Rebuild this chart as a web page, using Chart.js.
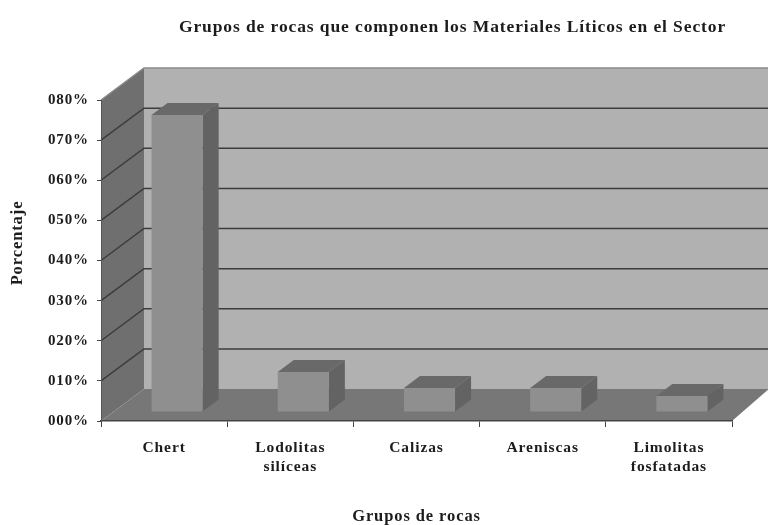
<!DOCTYPE html>
<html>
<head>
<meta charset="utf-8">
<title>Grupos de rocas</title>
<script src="https://cdn.jsdelivr.net/npm/chart.js@4"></script>
<style>
  html, body { margin: 0; background: #fff; }
  #wrap { width: 768px; height: 525px; }
  canvas { filter: blur(0.45px); }
</style>
</head>
<body>
<div id="wrap"><canvas id="rocasChart"></canvas></div>
<script>
const categorias = ['Chert', ['Lodolitas', 'silíceas'], 'Calizas', 'Areniscas', ['Limolitas', 'fosfatadas']];
const porcentajes = [74, 10, 6, 6, 4];
const yTickLabels = ['000%', '010%', '020%', '030%', '040%', '050%', '060%', '070%', '080%'];
const yTitulo = 'Porcentaje';

const serif = '"Liberation Serif", serif';
const ink = '#1c1c1c';
const espaciado = '0.9px';

// profundidad de las paredes y de las barras
const wallDx = 43, wallDy = 32, floorRightDx = 37;
const barDx = 16, barDy = 12;
const barShiftX = 13, barShiftY = 9;

function poly(ctx, pts, fill) {
  ctx.beginPath();
  pts.forEach((p, i) => i ? ctx.lineTo(p[0], p[1]) : ctx.moveTo(p[0], p[1]));
  ctx.closePath();
  ctx.fillStyle = fill;
  ctx.fill();
}

const falso3d = {
  id: 'falso3d',
  beforeLayout(chart) {
    chart.ctx.letterSpacing = espaciado;
  },
  afterLayout(chart) {
    // el título está a la derecha del centro del área
    chart.titleBlock.left += 36;
    chart.titleBlock.right += 36;
  },
  beforeDraw(chart) {
    const { ctx, chartArea: a, scales: { y } } = chart;
    ctx.letterSpacing = espaciado;
    const x0 = a.left, x1 = a.right, top = y.getPixelForValue(80), bot = y.getPixelForValue(0);
    ctx.save();
    poly(ctx, [[x0 + wallDx, top - wallDy], [x1 + wallDx, top - wallDy], [x1 + wallDx, bot - wallDy], [x0 + wallDx, bot - wallDy]], '#b1b1b1');
    poly(ctx, [[x0, top], [x0 + wallDx, top - wallDy], [x0 + wallDx, bot - wallDy], [x0, bot]], '#6f6f6f');
    poly(ctx, [[x0, bot], [x0 + wallDx, bot - wallDy], [x1 + floorRightDx, bot - wallDy], [x1, bot]], '#777777');
    ctx.strokeStyle = '#8a8a8a';
    ctx.lineWidth = 1.5;
    ctx.beginPath();
    ctx.moveTo(x0, top);
    ctx.lineTo(x0 + wallDx, top - wallDy);
    ctx.lineTo(x1 + wallDx, top - wallDy);
    ctx.stroke();
    ctx.strokeStyle = '#3c3c3c';
    ctx.beginPath();
    y.ticks.forEach(t => {
      if (t.value === 0 || t.value === 80) return;
      const py = y.getPixelForValue(t.value);
      ctx.moveTo(x0, py);
      ctx.lineTo(x0 + wallDx, py - wallDy);
      ctx.lineTo(x1 + wallDx, py - wallDy);
    });
    ctx.stroke();
    ctx.restore();
  },
  beforeDatasetsDraw(chart) {
    const { ctx } = chart;
    ctx.save();
    ctx.translate(barShiftX, -barShiftY);
    chart.getDatasetMeta(0).data.forEach(el => {
      const l = el.x - el.width / 2, r = el.x + el.width / 2;
      poly(ctx, [[l, el.y], [l + barDx, el.y - barDy], [r + barDx, el.y - barDy], [r, el.y]], '#696969');
      poly(ctx, [[r, el.y], [r + barDx, el.y - barDy], [r + barDx, el.base - barDy], [r, el.base]], '#636363');
    });
  },
  afterDatasetsDraw(chart) {
    chart.ctx.restore();
  },
  afterDraw(chart) {
    // título del eje y, no va centrado en el eje
    const { ctx } = chart;
    ctx.save();
    ctx.translate(18, 243);
    ctx.rotate(-Math.PI / 2);
    ctx.font = 'bold 16.5px ' + serif;
    ctx.fillStyle = ink;
    ctx.textAlign = 'center';
    ctx.textBaseline = 'middle';
    ctx.fillText(yTitulo, 0, 0);
    ctx.restore();
  }
};

new Chart(document.getElementById('rocasChart'), {
  type: 'bar',
  data: {
    labels: categorias,
    datasets: [{
      data: porcentajes,
      backgroundColor: '#8f8f8f',
      barPercentage: 0.405,
      categoryPercentage: 1,
      clip: false
    }]
  },
  options: {
    responsive: true,
    maintainAspectRatio: false,
    animation: false,
    layout: { padding: { right: 36 } },
    plugins: {
      legend: { display: false },
      tooltip: { enabled: false },
      title: {
        display: true,
        text: 'Grupos de rocas que componen los Materiales Líticos en el Sector',
        color: ink,
        fullSize: false,
        font: { family: serif, size: 17.5, weight: 'bold' },
        padding: { top: 17, bottom: 62 }
      }
    },
    scales: {
      x: {
        afterFit(s) { s.height = 104; },
        grid: { drawOnChartArea: false, tickLength: 6, color: '#444' },
        border: { color: '#444', width: 1.5 },
        ticks: { color: ink, padding: 11, maxRotation: 0, autoSkip: false, font: { family: serif, size: 15.5, weight: 'bold', lineHeight: 1.25 } },
        title: { display: true, text: 'Grupos de rocas', color: ink, font: { family: serif, size: 16.5, weight: 'bold' }, padding: { top: 0, bottom: -2 } }
      },
      y: {
        min: 0,
        max: 80,
        afterFit(s) { s.width = 101; },
        grid: { drawOnChartArea: false, tickLength: 4, color: '#444' },
        border: { color: '#555', width: 1 },
        ticks: {
          stepSize: 10,
          color: ink,
          padding: 8,
          font: { family: serif, size: 15, weight: 'bold' },
          callback: (v, i) => yTickLabels[i]
        }
      }
    }
  },
  plugins: [falso3d]
});
</script>
</body>
</html>
